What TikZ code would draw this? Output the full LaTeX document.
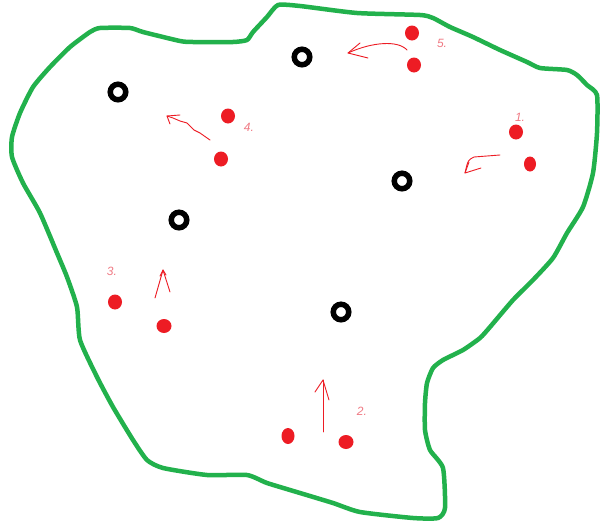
\documentclass[tikz,border=0pt]{standalone}
\usepackage{fontspec}
\setsansfont{Liberation Sans}
\usetikzlibrary{shapes.geometric}
\definecolor{pgreen}{HTML}{22B14C}
\definecolor{pred}{HTML}{ED1C24}
\definecolor{plabel}{HTML}{F07A84}
\begin{document}
\begin{tikzpicture}[x=1pt,y=-1pt,
  ring/.style={circle,draw=black,line width=5.5pt,minimum size=15.5pt,inner sep=0pt},
  dot/.style={ellipse,fill=pred,minimum width=14pt,minimum height=15pt,inner sep=0pt},
  lbl/.style={text=plabel,font=\sffamily\itshape\fontsize{12}{12}\selectfont,inner sep=0pt},
  hand/.style={draw=pred,line width=0.9pt,line cap=round,line join=round},
  outline/.style={draw=pgreen,line width=4.5pt,line join=round}]
\useasboundingbox (0,0) rectangle (600,525);
\fill[white] (0,0) rectangle (600,525);
% outline
\draw[outline] plot[smooth cycle,tension=0.35] coordinates {
(278,5)(300,6)(357,13)(420,15)(433,18)(450,27)(473,37)(500,50)(527,62)(540,68)
(567,70)(577,75)(587,85)(597,95)(597,133)(593,173)(583,207)(567,233)(553,258)
(533,280)(513,300)(490,327)(480,338)(463,350)(443,360)(433,368)(427,383)(425,403)
(425,430)(430,450)(443,468)(445,508)(438,518)(413,518)(360,512)(333,503)(300,493)
(267,483)(247,475)(207,475)(163,468)(147,460)(133,440)(113,407)(97,377)(80,340)
(77,307)(67,277)(57,253)(40,213)(23,183)(12,157)(12,137)(20,113)(33,87)(50,67)
(70,47)(90,32)(100,28)(130,28)(143,32)(180,41)(193,42)(233,42)(247,40)(253,32)(267,17)};
% rings
\node[ring] (r1) at (118,92) {};
\node[ring] (r2) at (302,57) {};
\node[ring] (r3) at (402,181) {};
\node[ring] (r4) at (179,220) {};
\node[ring] (r5) at (341,312) {};
% red dots
\node[dot] (d5a) at (412,33) {};
\node[dot] (d5b) at (414,65) {};
\node[dot] (d4a) at (228,116) {};
\node[dot] (d4b) at (221,159) {};
\node[dot] (d1a) at (516,132) {};
\node[dot,minimum width=12pt] (d1b) at (530,164) {};
\node[dot] (d3a) at (115,302) {};
\node[dot,minimum width=15pt,minimum height=14pt] (d3b) at (164,326) {};
\node[dot,minimum width=13pt,minimum height=16pt] (d2a) at (288,436) {};
\node[dot,minimum width=15pt,minimum height=14pt] (d2b) at (346,442) {};
% labels
\node[lbl] (l5) at (442,43) {5.};
\node[lbl] (l4) at (249,127) {4.};
\node[lbl] (l1) at (520,117) {1.};
\node[lbl] (l3) at (112,271) {3.};
\node[lbl] (l2) at (362,411) {2.};
% arrows
\coordinate (a5s) at (407,50); \coordinate (a5e) at (348,53);
\draw[hand] (a5s) .. controls (398,40) and (372,42) .. (a5e);
\draw[hand] (360,43) -- (a5e) -- (368,58);
\coordinate (a4s) at (210,140); \coordinate (a4e) at (167,116);
\draw[hand] (a4s) -- (200,133) -- (194,130) -- (187,123) -- (180,121) -- (173,118) -- (a4e);
\draw[hand] (170,124) -- (a4e) -- (180,115);
\coordinate (a1s) at (500,155); \coordinate (a1e) at (465,173);
\draw[hand] (a1s) -- (474,157) .. controls (468,160) .. (a1e);
\draw[hand] (469,162) -- (a1e) -- (481,168);
\coordinate (a3s) at (155,298); \coordinate (a3e) at (163,270);
\draw[hand] (a3s) -- (a3e) -- (170,292);
\draw[hand] (160,276) -- (a3e) -- (166,275);
\coordinate (a2s) at (323,432); \coordinate (a2e) at (323,380);
\draw[hand] (a2s) -- (a2e);
\draw[hand] (315,392) -- (a2e) -- (329,400);
\end{tikzpicture}
\end{document}
